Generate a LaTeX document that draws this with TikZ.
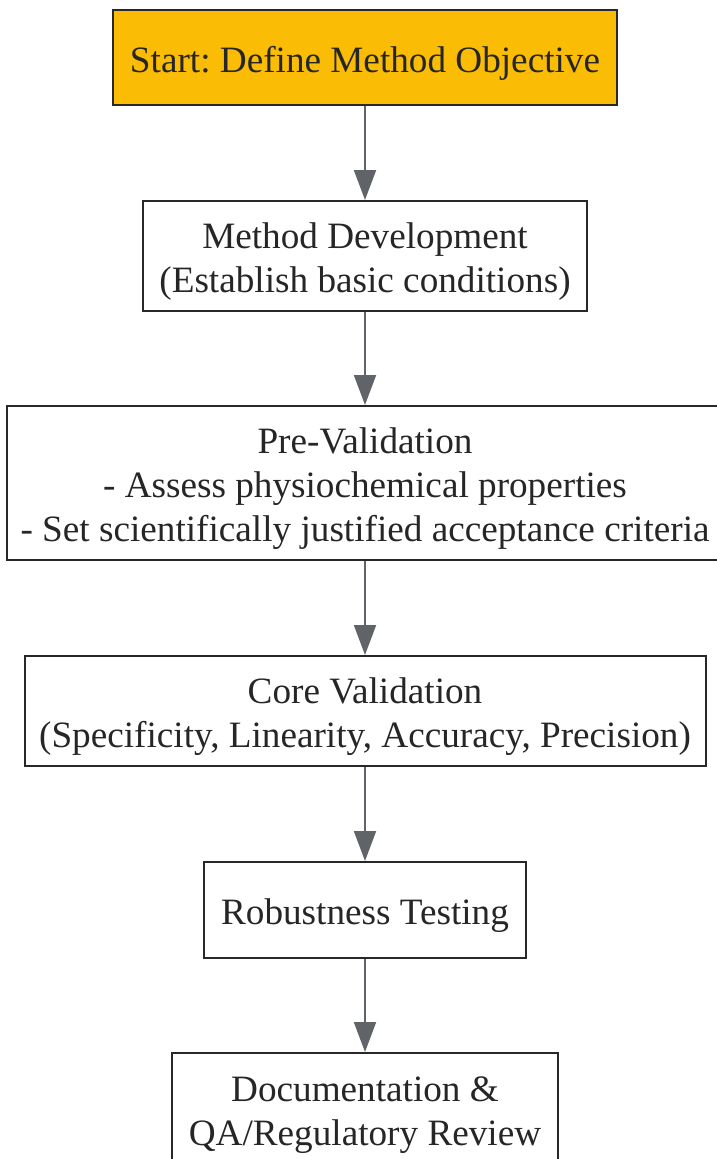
\documentclass[tikz,border=0pt]{standalone}
\usepackage{fontspec}
\setmainfont{Liberation Serif}
\usepackage{tikz}
\usetikzlibrary{arrows.meta}
\frenchspacing

\definecolor{startgold}{RGB}{250,188,5}
\definecolor{edgegray}{RGB}{96,99,104}
\definecolor{boxline}{RGB}{40,40,40}

\begin{document}
\begin{tikzpicture}[x=1pt,y=-1pt,
        stepbox/.style={draw=boxline,line width=2pt,fill=white,inner sep=0pt},
        steptext/.style={align=center,inner sep=0pt,yshift=-5.5pt,text=black!85,
          font=\fontsize{37.2}{44}\selectfont},
        flow/.style={draw=edgegray,line width=2pt,-{Triangle[length=30pt,width=22pt]}}]
        \useasboundingbox (0,0) rectangle (716,1159);
        % boxes, top to bottom
        \node[stepbox,fill=startgold,minimum width=504pt,minimum height=95pt] (objective) at (365,57.5) {};
        \node[stepbox,minimum width=444pt,minimum height=110pt] (develop) at (365,256) {};
        \node[stepbox,minimum width=716pt,minimum height=154pt] (prevalid) at (365,483) {};
        \node[stepbox,minimum width=681pt,minimum height=110pt] (corevalid) at (365,711) {};
        \node[stepbox,minimum width=322pt,minimum height=96pt] (robust) at (365,910) {};
        \node[stepbox,minimum width=386pt,minimum height=114pt] (review) at (365,1110) {};
        % texts
        \node[steptext] (objective-t) at (objective) {Start: Define Method Objective};
        \node[steptext] (develop-t) at (develop) {Method Development\\(Establish basic conditions)};
        \node[steptext] (prevalid-t) at (prevalid) {Pre-Validation\\- Assess physiochemical properties\\- Set scientifically justified acceptance criteria};
        \node[steptext] (corevalid-t) at (corevalid) {Core Validation\\(Specificity, Linearity, Accuracy, Precision)};
        \node[steptext] (robust-t) at (robust) {Robustness Testing};
        \node[steptext] (review-t) at (review) {Documentation \&\\QA/Regulatory Review};
        % connectors
        \draw[flow] (objective) -- (develop);
        \draw[flow] (develop) -- (prevalid);
        \draw[flow] (prevalid) -- (corevalid);
        \draw[flow] (corevalid) -- (robust);
        \draw[flow] (robust) -- (review);
      \end{tikzpicture}
\end{document}
